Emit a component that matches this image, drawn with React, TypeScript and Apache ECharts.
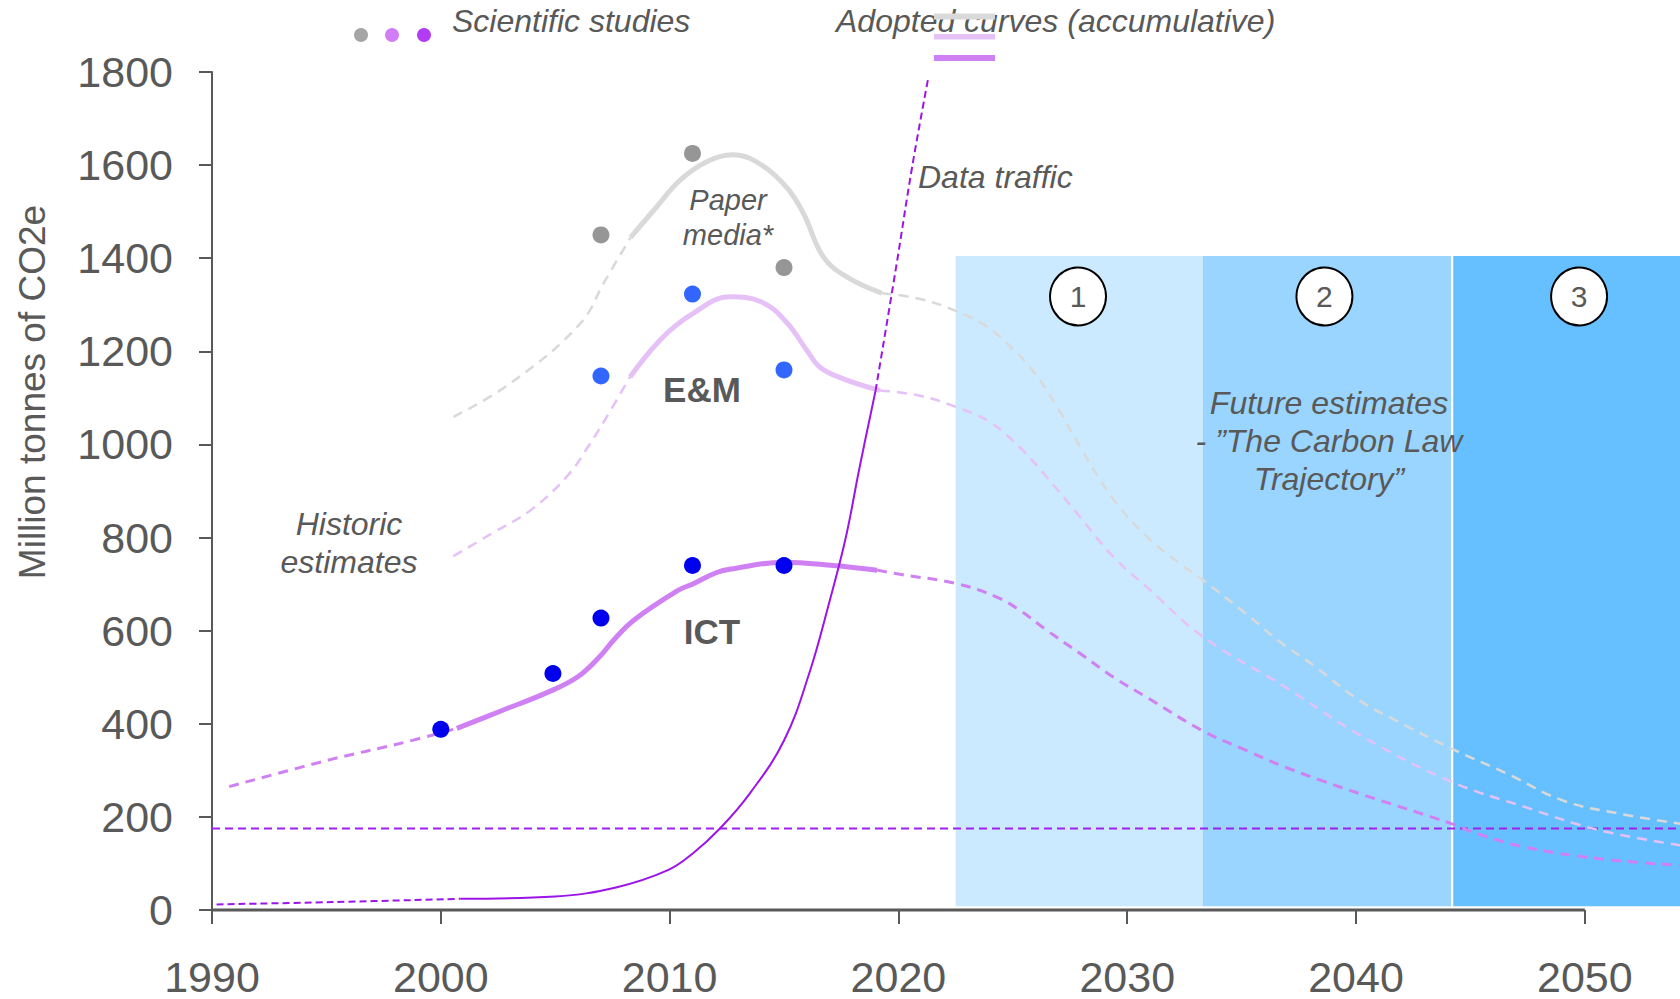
import React, { useEffect, useRef } from "react";
import * as echarts from "echarts";

const FONT = "'Liberation Sans', Arial, Helvetica, sans-serif";
const TEXT = "#595959";

const xTicks = [1990, 2000, 2010, 2020, 2030, 2040, 2050];
const xMin = 1990;
const xMax = 2054.16;
const axisEnd = 2050;

// Adopted curves (accumulative): historic dashed, adopted solid, future dashed
const paperHistoric = [[2000.55, 1059], [2003.09, 1133], [2006.08, 1259], [2007.18, 1352], [2008.3, 1445]];
const paperAdopted = [[2008.3, 1445], [2009.43, 1510], [2010.45, 1567], [2011.62, 1607], [2012.78, 1622], [2013.8, 1607], [2015.1, 1553], [2015.85, 1496], [2016.72, 1403], [2017.74, 1360], [2019.27, 1325]];
const paperFuture = [[2019.27, 1325], [2020.9, 1313], [2022.45, 1288], [2023.9, 1252], [2025, 1205], [2026, 1150], [2027, 1075], [2028, 990], [2029.4, 882], [2030.85, 802], [2032.3, 744], [2033.33, 708], [2035.2, 636], [2036.7, 575], [2038.1, 527], [2040.15, 450], [2041.75, 407], [2044.2, 346], [2046.6, 293], [2049.05, 235], [2051.5, 207], [2054.2, 185]];

const emHistoric = [[2000.55, 760], [2002.2, 808], [2003.96, 860], [2005.56, 934], [2006.5, 1000], [2007.2, 1055], [2008.27, 1145]];
const emAdopted = [[2008.27, 1145], [2009.58, 1224], [2010.89, 1277], [2012.64, 1317], [2014.02, 1306], [2015.1, 1263], [2016, 1202], [2016.57, 1166], [2017.59, 1141], [2019.2, 1116]];
const emFuture = [[2019.2, 1116], [2020.9, 1105], [2022.55, 1080], [2024, 1048], [2025.3, 994], [2026.48, 930], [2027.94, 844], [2029.4, 758], [2030.85, 694], [2033.33, 586], [2036.8, 482], [2040.3, 372], [2044.2, 275], [2047.4, 221], [2050.66, 171], [2054.2, 139]];

const ictHistoric = [[1990.75, 265], [1995.25, 324], [1998.16, 357], [2000.7, 390]];
const ictAdopted = [[2000.7, 390], [2002.6, 427], [2004.69, 468], [2005.99, 501], [2006.96, 545], [2007.54, 579], [2008.42, 622], [2010.35, 686], [2011.04, 701], [2012.06, 725], [2012.78, 733], [2014.96, 747], [2017.15, 740], [2019.07, 730]];
const ictFuture = [[2019.07, 730], [2020.07, 721], [2022.55, 701], [2024.3, 672], [2025.3, 644], [2026.48, 601], [2027.94, 551], [2029.4, 500], [2030.85, 457], [2033.33, 384], [2035.2, 343], [2036.9, 307], [2038.5, 278], [2040.15, 250], [2044.2, 185], [2045.3, 164], [2047.4, 135], [2050.66, 110], [2054.2, 96]];

// Data traffic
const trafficHistoric = [[1990.2, 12], [1995.25, 17], [2000.85, 24]];
const trafficAdopted = [[2000.85, 24], [2005, 29], [2007.7, 49], [2009.9, 85], [2011, 121], [2012.2, 175], [2013.5, 250], [2015, 364], [2016.1, 508], [2017, 665], [2017.7, 800], [2018.3, 950], [2019, 1115]];
const trafficFuture = [[2019, 1115], [2019.9, 1381], [2020.6, 1596], [2021.3, 1786]];

// Scientific studies
const paperStudies = [[2007, 1450], [2011, 1625], [2015, 1380]];
const emStudies = [[2007, 1147], [2011, 1323], [2015, 1160]];
const ictStudies = [[2000, 388], [2004.9, 508], [2007, 627], [2011, 740], [2015, 740]];

// Carbon-law target level and phases
const targetLevel = 175;
const phaseLabels = ["1", "2", "3"];
const phaseBounds = [[2022.5, 2033.3], [2033.3, 2044.15], [2044.25, xMax]];
const phaseCenters = [2027.85, 2038.62, 2049.75];
const phaseLabelLevel = 1318;
const phaseTop = 1405;
const phaseBottom = 8;

const C_PAPER = "#d9d9d9";
const C_EM = "#e6c1f8";
const C_ICT = "#cf80f3";
const C_TRAFFIC = "#9c14e8";
const C_TARGET = "#a020f0";
const PHASE_COLORS = ["#cceaff", "#99d5ff", "#66c0ff"];

function lineSeries(data: number[][], color: string, width: number, dashed: boolean, z: number, dash = [10, 7]) {
  return {
    type: "line",
    data,
    showSymbol: false,
    symbol: "none",
    smooth: 0.4,
    z,
    silent: true,
    lineStyle: { color, width, type: dashed ? dash : "solid", cap: "butt" },
  };
}

export default function App() {
  const ref = useRef<HTMLDivElement>(null);
  useEffect(() => {
    document.body.style.margin = "0";
    if (!ref.current) return;
    const chart = echarts.init(ref.current, undefined, { renderer: "svg" });

    const option: any = {
      animation: false,
      backgroundColor: "#ffffff",
      grid: { left: 212, right: 0, top: 72, bottom: 89 },
      xAxis: {
        type: "value",
        min: xMin,
        max: xMax,
        axisLine: { show: false },
        axisTick: { show: true, customValues: xTicks, length: 14, lineStyle: { color: TEXT, width: 2 } },
        axisLabel: {
          customValues: xTicks,
          margin: 45,
          fontSize: 43,
          color: TEXT,
          fontFamily: FONT,
          formatter: (v: number) => String(v),
        },
        splitLine: { show: false },
      },
      yAxis: {
        type: "value",
        min: 0,
        max: 1800,
        interval: 200,
        axisLine: { show: true, lineStyle: { color: TEXT, width: 2 } },
        axisTick: { show: true, length: 13, lineStyle: { color: TEXT, width: 2 } },
        axisLabel: { margin: 39, fontSize: 43, color: TEXT, fontFamily: FONT, formatter: (v: number) => String(v) },
        splitLine: { show: false },
      },
      series: [
        {
          type: "line",
          data: [[phaseBounds[0][0], phaseBottom]],
          showSymbol: false,
          symbol: "none",
          lineStyle: { width: 0 },
          z: 1,
          silent: true,
          markArea: {
            silent: true,
            data: phaseBounds.map((b, i) => [
              { xAxis: b[0], yAxis: phaseBottom, itemStyle: { color: PHASE_COLORS[i], opacity: 1 } },
              { xAxis: b[1], yAxis: phaseTop },
            ]),
          },
        },
        {
          type: "line",
          data: [[xMin, targetLevel], [xMax, targetLevel]],
          showSymbol: false,
          symbol: "none",
          z: 3,
          silent: true,
          lineStyle: { color: C_TARGET, width: 2, type: [8, 5] },
        },
        lineSeries(paperHistoric, C_PAPER, 2.5, true, 3),
        lineSeries(paperFuture, C_PAPER, 2.5, true, 3),
        lineSeries(emHistoric, C_EM, 2.5, true, 3),
        lineSeries(emFuture, C_EM, 2.5, true, 3),
        lineSeries(ictHistoric, C_ICT, 3, true, 3),
        lineSeries(ictFuture, C_ICT, 3, true, 3),
        lineSeries(paperAdopted, C_PAPER, 5, false, 4),
        lineSeries(emAdopted, C_EM, 5, false, 4),
        lineSeries(ictAdopted, C_ICT, 5, false, 4),
        lineSeries(trafficHistoric, C_TRAFFIC, 2, true, 5, [7, 4]),
        lineSeries(trafficAdopted, C_TRAFFIC, 2, false, 5),
        lineSeries(trafficFuture, C_TRAFFIC, 2, true, 5, [7, 4]),
        {
          type: "scatter",
          data: paperStudies,
          symbolSize: 17,
          itemStyle: { color: "#969696", opacity: 1 },
          z: 6,
          silent: true,
        },
        {
          type: "scatter",
          data: emStudies,
          symbolSize: 17,
          itemStyle: { color: "#3366ff", opacity: 1 },
          z: 6,
          silent: true,
        },
        {
          type: "scatter",
          data: ictStudies,
          symbolSize: 17,
          itemStyle: { color: "#0000ee", opacity: 1 },
          z: 6,
          silent: true,
        },
        {
          type: "scatter",
          data: phaseLabels.map((n, i) => ({ name: n, value: [phaseCenters[i], phaseLabelLevel] })),
          symbolSize: [56, 58],
          itemStyle: { color: "#ffffff", borderColor: "#000000", borderWidth: 2, opacity: 1 },
          label: {
            show: true,
            position: "inside",
            formatter: "{b}",
            fontSize: 30,
            color: TEXT,
            fontFamily: FONT,
          },
          z: 7,
          silent: true,
        },
        {
          type: "line",
          data: [[xMin, 0], [axisEnd, 0]],
          showSymbol: false,
          symbol: "none",
          clip: false,
          z: 8,
          silent: true,
          lineStyle: { color: TEXT, width: 3 },
        },
      ],
      graphic: [
        {
          type: "text",
          x: 32,
          y: 392,
          rotation: Math.PI / 2,
          style: {
            text: "Million tonnes of CO2e",
            fill: TEXT,
            fontSize: 37,
            fontFamily: FONT,
            align: "center",
            verticalAlign: "middle",
          },
        },
        { type: "circle", shape: { cx: 361, cy: 35, r: 7 }, style: { fill: "#a5a5a5" } },
        { type: "circle", shape: { cx: 392, cy: 35, r: 7 }, style: { fill: "#d17ef6" } },
        { type: "circle", shape: { cx: 424, cy: 35, r: 7 }, style: { fill: "#b23cf4" } },
        {
          type: "text",
          x: 452,
          y: 21,
          style: { text: "Scientific studies", fill: TEXT, fontSize: 32, fontStyle: "italic", fontFamily: FONT, align: "left", verticalAlign: "middle" },
        },
        {
          type: "text",
          x: 836,
          y: 21,
          style: { text: "Adopted curves (accumulative)", fill: TEXT, fontSize: 32, fontStyle: "italic", fontFamily: FONT, align: "left", verticalAlign: "middle" },
        },
        { type: "rect", shape: { x: 934, y: 13.5, width: 61, height: 6 }, style: { fill: C_PAPER } },
        { type: "rect", shape: { x: 934, y: 34, width: 61, height: 5.5 }, style: { fill: C_EM } },
        { type: "rect", shape: { x: 934, y: 55, width: 61, height: 6 }, style: { fill: C_ICT } },
        {
          type: "text",
          x: 728,
          y: 217.5,
          style: { text: "Paper\nmedia*", fill: TEXT, fontSize: 29, lineHeight: 35, fontStyle: "italic", fontFamily: FONT, align: "center", verticalAlign: "middle" },
        },
        {
          type: "text",
          x: 702,
          y: 389,
          style: { text: "E&M", fill: TEXT, fontSize: 35, fontWeight: "bold", fontFamily: FONT, align: "center", verticalAlign: "middle" },
        },
        {
          type: "text",
          x: 712,
          y: 631,
          style: { text: "ICT", fill: TEXT, fontSize: 35, fontWeight: "bold", fontFamily: FONT, align: "center", verticalAlign: "middle" },
        },
        {
          type: "text",
          x: 918,
          y: 177,
          style: { text: "Data traffic", fill: TEXT, fontSize: 32, fontStyle: "italic", fontFamily: FONT, align: "left", verticalAlign: "middle" },
        },
        {
          type: "text",
          x: 349,
          y: 543,
          style: { text: "Historic\nestimates", fill: TEXT, fontSize: 32, lineHeight: 38, fontStyle: "italic", fontFamily: FONT, align: "center", verticalAlign: "middle" },
        },
        {
          type: "text",
          x: 1329,
          y: 441,
          z: 10,
          style: {
            text: "Future estimates\n- \u201dThe Carbon Law\nTrajectory\u201d",
            fill: TEXT,
            fontSize: 32,
            lineHeight: 38,
            fontStyle: "italic",
            fontFamily: FONT,
            align: "center",
            verticalAlign: "middle",
          },
        },
      ],
    };

    chart.setOption(option);
    return () => {
      chart.dispose();
    };
  }, []);

  return <div ref={ref} style={{ width: 1680, height: 999 }} />;
}
